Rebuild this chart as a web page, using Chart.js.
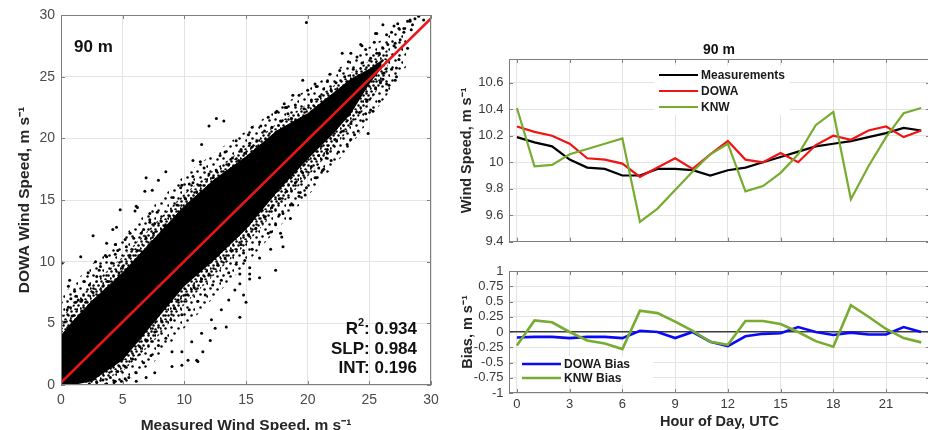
<!DOCTYPE html>
<html>
<head>
<meta charset="utf-8">
<script src="https://cdn.jsdelivr.net/npm/chart.js@4.4.1/dist/chart.umd.min.js"></script>
<style>
  html, body { margin: 0; padding: 0; background: #fff; width: 928px; height: 430px; overflow: hidden; }
  canvas { position: absolute; }
  #scatter { left: 0; top: 0; }
  #speed { left: 455px; top: 0; }
  #bias { left: 455px; top: 255px; }
</style>
</head>
<body>
<canvas id="scatter" width="455" height="440"></canvas>
<canvas id="speed" width="477" height="255"></canvas>
<canvas id="bias" width="477" height="180"></canvas>
<script>
// ---- hourly means at 90 m ----
var hours = [0, 1, 2, 3, 4, 5, 6, 7, 8, 9, 10, 11, 12, 13, 14, 15, 16, 17, 18, 19, 20, 21, 22, 23];
var measured = [10.19, 10.15, 10.12, 10.02, 9.96, 9.95, 9.90, 9.90, 9.95, 9.95, 9.94, 9.90, 9.94, 9.96, 10.00, 10.04, 10.08, 10.12, 10.14, 10.16, 10.19, 10.22, 10.26, 10.24];
var dowa = [10.27, 10.23, 10.20, 10.14, 10.03, 10.02, 9.99, 9.89, 9.96, 10.03, 9.95, 10.06, 10.16, 10.02, 10.00, 10.07, 10.00, 10.13, 10.20, 10.17, 10.24, 10.27, 10.19, 10.24];
var knw = [10.41, 9.97, 9.98, 10.06, 10.10, 10.14, 10.18, 9.55, 9.65, 9.79, 9.93, 10.06, 10.14, 9.78, 9.82, 9.92, 10.06, 10.28, 10.38, 9.72, 9.97, 10.19, 10.37, 10.41];
var dowaBias = [-0.09, -0.08, -0.08, -0.10, -0.08, -0.08, -0.10, 0.02, 0.00, -0.10, 0.00, -0.16, -0.23, -0.07, -0.03, -0.02, 0.08, 0.00, -0.05, -0.01, -0.04, -0.04, 0.08, 0.00];
var knwBias = [-0.22, 0.19, 0.16, 0.00, -0.14, -0.19, -0.28, 0.35, 0.31, 0.17, 0.02, -0.16, -0.21, 0.18, 0.18, 0.13, 0.00, -0.15, -0.24, 0.44, 0.25, 0.05, -0.10, -0.17];

var hourTicks = [0, 3, 6, 9, 12, 15, 18, 21];
var speedTicks = [9.4, 9.6, 9.8, 10, 10.2, 10.4, 10.6];
var biasTicks = [-1, -0.75, -0.5, -0.25, 0, 0.25, 0.5, 0.75, 1];
var scatterTicks = [0, 5, 10, 15, 20, 25, 30];

// ---- scatter (measured vs DOWA) ----
// solid middle of the cloud, as upper/lower edges
var coreX = [0, 1, 2.5, 5, 7.5, 10, 12.5, 15, 17.5, 20, 22, 23.5, 25, 26];
var coreUpper = [4.0, 5.2, 6.8, 9.1, 11.8, 14.5, 16.7, 18.5, 20.6, 22.0, 23.6, 24.8, 25.6, 26.3];
var coreLower = [0, 0, 0.3, 2.0, 5.0, 8.0, 10.2, 12.6, 15.6, 18.3, 20.3, 22.0, 24.4, 25.7];
// thick speckle round the core
var innerX = [0, 1, 2.5, 5, 7.5, 10, 12.5, 15, 17.5, 20, 22, 23.5, 25, 26.5];
var innerUpper = [5.5, 6.5, 8.1, 10.4, 13.0, 15.5, 17.5, 19.3, 21.2, 22.8, 24.2, 25.3, 26.3, 27.2];
var innerLower = [0, 0, 0, 1.1, 3.5, 6.5, 9.0, 11.4, 14.2, 16.9, 19.1, 20.9, 22.9, 25.3];
// thin speckle further out
var outerX = [0, 1, 2.5, 5, 7.5, 10, 12.5, 15, 17.5, 20, 22, 23.5, 25, 26.5, 28];
var outerUpper = [7.2, 8.2, 9.8, 12.0, 14.6, 17.0, 18.9, 20.6, 22.4, 24.0, 25.3, 26.4, 27.4, 28.3, 29.2];
var outerLower = [0, 0, 0, 0, 1.8, 4.6, 7.2, 9.8, 12.6, 15.3, 17.6, 19.4, 21.5, 23.6, 25.8];
// single points
var loosePoints = [
  // far outliers
  [19.9,29.4],[19.6,24.7],[12.6,21.6],[12.0,21.0],[13.2,21.4],[11.4,19.5],[10.7,18.2],[11.3,18.1],[8.5,17.3],[7.9,16.6],
  [6.9,16.8],[6.8,15.7],[7.4,15.8],[9.8,16.2],[10.7,16.9],[6.2,14.4],[4.8,14.2],[4.5,12.8],[4.2,12.6],[2.6,12.1],
  [1.6,10.4],[0.6,8.0],[0.7,8.5],[0.1,9.9],[1.2,6.7],[3.2,9.6],[3.7,10.4],[4.4,11.4],[5.6,12.3],[7.2,13.4],
  [6.1,14.5],[6.0,14.1],[3.6,10.5],[1.1,7.6],[1.9,8.4],[2.2,9.1],[3.7,11.5],[4.6,10.9],[5.2,11.8],[7.2,13.9],
  [7.6,13.1],[6.7,12.6],[2.8,10.0],[1.7,6.9],[0.5,6.1],[0.8,7.0],[15.5,20.9],[15.3,19.6],[14.4,18.2],[17.5,22.2],
  [18.3,22.5],[18.8,23.5],[18.2,22.5],
  [17.4,9.3],[16.1,8.7],[15.0,6.7],[14.8,7.3],[11.0,2.0],[9.8,1.6],[6.9,0.6],[13.4,4.7],[12.5,4.6],[14.5,5.5],
  [17.0,11.0],[17.8,12.3],[18.6,13.5],[19.4,15.6],[24.1,20.6],[25.3,22.2],[26.6,24.3],[27.2,25.0],[22.5,21.8],[21.6,18.8],
  [20.9,17.6],[23.5,19.9],[16.1,10.3],[15.3,9.5],[15.3,9.0],[17.7,13.8],[18.8,14.6],[19.8,15.4],[21.3,17.5],[21.5,18.4],
  [20.7,16.8],[17.0,12.4],[17.9,12.0],[18.0,11.2],[14.8,10.7],[15.3,8.6],[14.5,9.0],[11.1,1.9],[12.1,3.6],[11.5,2.7],
  [10.3,2.0],[10.6,3.5],[9.0,1.5],[7.6,1.0],[6.1,0.3],[5.2,0.5],[9.8,2.7],[13.0,6.1],[12.2,5.3],[14.1,7.7],
  [14.5,8.2],[13.6,6.9],[11.4,4.2],[9.0,2.7],[3.6,0.05],[4.4,0.3],
  [29.0,29.9],[28.3,29.5],[27.8,28.9],[26.4,28.4],[25.5,28.5],[24.3,27.6],[23.5,26.9],[21.8,25.2],[20.7,24.2],[25.6,26.9],
  [27.5,28.0],[28.5,29.2],[27.0,29.1],[29.4,29.6],[26.2,25.3],[25.9,24.5],[24.8,23.1],[27.0,27.5],[26.1,29.2],[27.3,29.3],
  [28.3,29.6],[25.6,28.5],[24.4,27.5],[22.8,26.9],[26.4,24.4],[27.2,25.7],[24.7,22.0],[22.6,21.5],[24.9,20.4],
  // above the core
  [0.3,5.1],[0.6,6.3],[0.9,5.6],[1.2,7.2],[1.4,6.9],[1.7,6.0],[2.0,6.7],[2.3,8.1],[2.6,7.5],[2.9,8.8],
  [3.1,9.3],[3.4,8.0],[3.8,8.4],[4.1,9.9],[4.4,10.6],[4.7,9.1],[5.0,9.6],[5.3,11.2],[5.6,10.5],[5.9,11.9],
  [6.2,10.9],[6.5,12.3],[6.9,11.9],[7.2,13.2],[7.5,12.3],[7.8,14.0],[8.1,13.3],[8.4,12.9],[8.8,13.7],[9.1,15.2],
  [9.4,14.6],[9.7,16.0],[10.1,15.1],[10.4,16.3],[10.7,16.4],[11.0,15.6],[11.3,16.2],[11.6,17.6],[12.0,17.1],[12.3,16.8],
  [12.6,17.4],[12.9,18.6],[13.3,18.9],[13.6,17.9],[13.9,18.4],[14.2,19.8],[14.6,19.1],[14.9,18.8],[15.2,20.3],[15.5,19.3],
  [15.9,19.8],[16.2,21.0],[16.5,20.6],[16.8,21.7],[17.1,20.9],[17.4,22.1],[17.8,21.4],[18.1,22.8],[18.4,22.0],[18.7,21.6],
  [19.0,22.7],[19.3,23.5],[19.7,22.4],[20.0,23.9],[20.3,23.1],[20.6,24.4],[21.0,23.4],[21.3,24.0],[21.6,24.6],[21.9,23.9],
  [22.3,24.5],[22.6,25.5],[23.0,25.0],[23.3,26.2],[23.7,25.6],[24.0,26.6],[24.4,26.1],[24.7,27.2],[25.1,26.5],[25.4,27.8],
  [25.8,26.9],[26.1,27.3],[26.5,27.6],[26.8,28.6],[27.1,27.7],[27.4,28.9],[27.8,28.6],[28.1,29.5],[28.4,28.8],[28.7,29.7],
  // below the core
  [2.3,0.1],[2.9,0.2],[3.4,0.4],[3.7,0.1],[4.0,0.6],[4.3,0.2],[4.6,1.1],[4.9,0.3],[5.2,1.5],[5.5,0.6],
  [5.8,2.1],[6.1,1.0],[6.4,3.1],[6.7,1.8],[7.0,3.6],[7.3,2.4],[7.6,4.3],[7.9,3.2],[8.2,5.1],[8.5,3.8],
  [8.9,5.3],[9.2,6.2],[9.5,6.9],[9.8,5.7],[10.1,7.3],[10.4,6.1],[10.8,7.9],[11.1,6.8],[11.4,8.6],[11.7,7.3],
  [12.0,9.0],[12.3,8.1],[12.7,9.7],[13.0,8.5],[13.3,10.3],[13.6,9.1],[13.9,10.9],[14.2,9.8],[14.6,11.4],[14.9,10.1],
  [15.2,12.2],[15.5,11.0],[15.8,12.7],[16.1,11.6],[16.5,13.6],[16.8,12.3],[17.1,14.4],[17.4,13.0],[17.7,15.1],[18.0,13.9],
  [18.3,15.7],[18.6,14.6],[19.0,16.4],[19.3,15.3],[19.6,17.2],[19.9,16.0],[20.3,17.7],[20.6,16.8],[20.9,18.6],[21.2,17.4],
  [21.6,19.1],[21.9,18.2],[22.2,19.9],[22.5,18.9],[22.9,20.6],[23.2,19.5],[23.5,21.2],[23.8,20.3],[24.2,22.1],[24.5,21.4],
  [24.8,23.0],[25.1,22.3],[25.5,24.1],[25.8,23.0],[26.1,24.8],[26.4,23.9],[26.8,25.6],[27.1,24.7],[27.4,26.4],[28.1,27.3]
];
// regression line end points
var fitX = [0, 30];
var fitY = [0.196, 29.716];
var statNames = ['R', 'SLP', 'INT'];
var statValues = [0.934, 0.984, 0.196];
var heightLabel = '90 m';

var FONT = "'Liberation Sans', Arial, Helvetica, sans-serif";
Chart.defaults.font.family = FONT;
Chart.defaults.animation = false;

function pairs(xs, ys) {
  return xs.map(function(x, i) { return {x: x, y: ys[i]}; });
}
function setTicks(list) {
  return function(scale) { scale.ticks = list.map(function(v) { return {value: v}; }); };
}
function fixWidth(w) { return function(scale) { scale.width = w; }; }
function fixHeight(h) { return function(scale) { scale.height = h; }; }

// small dotted texture used to fill the fringe of the cloud
var scatterCanvas = document.getElementById('scatter');
function stipple(size, dots) {
  var tile = document.createElement('canvas');
  tile.width = tile.height = size;
  var g = tile.getContext('2d');
  g.fillStyle = '#000';
  dots.forEach(function(d) {
    g.beginPath();
    g.arc(d[0] + 0.5, d[1] + 0.5, 1.25, 0, Math.PI * 2);
    g.fill();
  });
  return scatterCanvas.getContext('2d').createPattern(tile, 'repeat');
}
var densePattern = stipple(10, [[1,1],[6,1],[3,5],[8,5],[0,8],[5,9]]);
var thinPattern = stipple(13, [[2,2],[9,3],[5,8],[12,10]]);

// box round the plot area plus small inward tick marks, matlab style
var framePlugin = {
  id: 'frame',
  afterDraw: function(chart) {
    var a = chart.chartArea, ctx = chart.ctx;
    ctx.save();
    ctx.strokeStyle = '#7f7f7f';
    ctx.lineWidth = 1;
    ctx.strokeRect(Math.round(a.left) + 0.5, Math.round(a.top) + 0.5, Math.round(a.width) - 1, Math.round(a.height) - 1);
    ctx.beginPath();
    chart.scales.x.ticks.forEach(function(t) {
      var px = Math.round(chart.scales.x.getPixelForValue(t.value)) + 0.5;
      ctx.moveTo(px, a.bottom); ctx.lineTo(px, a.bottom - 4);
      ctx.moveTo(px, a.top); ctx.lineTo(px, a.top + 4);
    });
    chart.scales.y.ticks.forEach(function(t) {
      var py = Math.round(chart.scales.y.getPixelForValue(t.value)) + 0.5;
      ctx.moveTo(a.left, py); ctx.lineTo(a.left + 4, py);
      ctx.moveTo(a.right, py); ctx.lineTo(a.right - 4, py);
    });
    ctx.stroke();
    ctx.restore();
  }
};

function lineLegend(dx, dy, gap, bg) {
  return {
    id: 'lineLegend',
    afterDatasetsDraw: function(chart) {
      var a = chart.chartArea, ctx = chart.ctx;
      var x0 = a.left + dx, y0 = a.top + dy;
      ctx.save();
      ctx.fillStyle = '#fff';
      ctx.fillRect(x0 + bg[0], y0 + bg[1], bg[2], bg[3]);
      ctx.font = 'bold 12px ' + FONT;
      ctx.textBaseline = 'middle';
      chart.data.datasets.forEach(function(ds, i) {
        var y = y0 + i * gap;
        ctx.strokeStyle = ds.borderColor;
        ctx.lineWidth = ds.borderWidth;
        ctx.beginPath();
        ctx.moveTo(x0, y); ctx.lineTo(x0 + 39, y);
        ctx.stroke();
        ctx.fillStyle = '#1a1a1a';
        ctx.fillText(ds.label, x0 + 42, y + 1);
      });
      ctx.restore();
    }
  };
}

function baseScale(extra) {
  var s = {
    type: 'linear',
    border: {display: false},
    grid: {color: '#e4e4e4', lineWidth: 1, drawTicks: false}
  };
  for (var k in extra) s[k] = extra[k];
  return s;
}

function band(label, xs, ys, fill, bg, order) {
  return {label: label, data: pairs(xs, ys), showLine: true, pointRadius: 0, order: order,
          borderWidth: fill && bg === '#000' ? 1 : 0, borderColor: bg === '#000' ? '#000' : 'rgba(0,0,0,0)',
          fill: fill, backgroundColor: bg};
}

// ---------- left: scatter ----------
new Chart(scatterCanvas, {
  type: 'scatter',
  data: {
    datasets: [
      {label: 'fit', data: pairs(fitX, fitY), showLine: true, borderColor: '#e8161b', borderWidth: 2.6,
       pointRadius: 0, order: 0},
      {label: 'hourly pairs', data: loosePoints.map(function(p) { return {x: p[0], y: p[1]}; }),
       pointRadius: 1.5, pointBackgroundColor: '#000', pointBorderWidth: 0, order: 1},
      band('core upper', coreX, coreUpper, '+1', '#000', 2),
      band('core lower', coreX, coreLower, false, '#000', 3),
      band('inner upper', innerX, innerUpper, '+1', densePattern, 4),
      band('inner lower', innerX, innerLower, false, densePattern, 5),
      band('outer upper', outerX, outerUpper, '+1', thinPattern, 6),
      band('outer lower', outerX, outerLower, false, thinPattern, 7)
    ]
  },
  options: {
    responsive: false,
    devicePixelRatio: 1,
    layout: {padding: {top: 15, right: 24, bottom: 0, left: 0}},
    plugins: {legend: {display: false}, tooltip: {enabled: false}},
    scales: {
      x: baseScale({
        min: 0, max: 30,
        afterBuildTicks: setTicks(scatterTicks),
        afterFit: fixHeight(55),
        ticks: {color: '#4a4a4a', font: {size: 14}, padding: 7, autoSkip: false, maxRotation: 0},
        title: {display: true, text: 'Measured Wind Speed, m s\u207B\u00B9', color: '#262626',
                font: {size: 15.5, weight: 'bold'}, padding: {top: 0, bottom: 5}}
      }),
      y: baseScale({
        min: 0, max: 30,
        afterBuildTicks: setTicks(scatterTicks),
        afterFit: fixWidth(61),
        ticks: {color: '#4a4a4a', font: {size: 14}, padding: 6, autoSkip: false},
        title: {display: true, text: 'DOWA Wind Speed, m s\u207B\u00B9', color: '#262626',
                font: {size: 15.5, weight: 'bold'}, padding: {top: 15.7, bottom: 0}}
      })
    }
  },
  plugins: [framePlugin, {
    id: 'scatterNotes',
    afterDraw: function(chart) {
      var a = chart.chartArea, ctx = chart.ctx;
      ctx.save();
      ctx.fillStyle = '#111';
      ctx.textBaseline = 'middle';
      ctx.font = 'bold 17px ' + FONT;
      ctx.textAlign = 'left';
      ctx.fillText(heightLabel, a.left + 13, a.top + 32);
      ctx.textAlign = 'right';
      var right = a.right - 14;
      var rows = [a.bottom - 56, a.bottom - 36, a.bottom - 17];
      statNames.forEach(function(name, i) {
        var val = ': ' + statValues[i].toFixed(3);
        ctx.font = 'bold 17px ' + FONT;
        if (i === 0) {
          var wVal = ctx.measureText(val).width;
          ctx.fillText(val, right, rows[i]);
          ctx.font = 'bold 11px ' + FONT;
          var wSup = ctx.measureText('2').width;
          ctx.fillText('2', right - wVal, rows[i] - 6);
          ctx.font = 'bold 17px ' + FONT;
          ctx.fillText(name, right - wVal - wSup, rows[i]);
        } else {
          ctx.fillText(name + val, right, rows[i]);
        }
      });
      ctx.restore();
    }
  }]
});

// ---------- right top: hourly wind speed ----------
new Chart(document.getElementById('speed'), {
  type: 'scatter',
  data: {
    datasets: [
      {label: 'Measurements', data: pairs(hours, measured), showLine: true, borderColor: '#000', borderWidth: 2.2, pointRadius: 0, order: 3},
      {label: 'DOWA', data: pairs(hours, dowa), showLine: true, borderColor: '#f01414', borderWidth: 2.2, pointRadius: 0, order: 2},
      {label: 'KNW', data: pairs(hours, knw), showLine: true, borderColor: '#77ac30', borderWidth: 2.2, pointRadius: 0, order: 1}
    ]
  },
  options: {
    responsive: false,
    devicePixelRatio: 1,
    layout: {padding: {top: 59, right: 2, bottom: 0, left: 0}},
    plugins: {legend: {display: false}, tooltip: {enabled: false}},
    scales: {
      x: baseScale({
        min: -0.45, max: 23.5,
        afterBuildTicks: setTicks(hourTicks),
        afterFit: fixHeight(5),
        ticks: {display: false}
      }),
      y: baseScale({
        min: 9.4, max: 10.78,
        afterBuildTicks: setTicks(speedTicks),
        afterFit: fixWidth(54),
        ticks: {color: '#3a3a3a', font: {size: 13}, padding: 5.5, autoSkip: false,
                callback: function(v) { return String(v); }},
        title: {display: true, text: 'Wind Speed, m s\u207B\u00B9', color: '#262626',
                font: {size: 14.5, weight: 'bold'}, padding: {top: 3, bottom: 0}}
      })
    }
  },
  plugins: [framePlugin, lineLegend(150, 16, 16, [-5, -9, 136, 49]), {
    id: 'speedTitle',
    afterDraw: function(chart) {
      var a = chart.chartArea, ctx = chart.ctx;
      ctx.save();
      ctx.fillStyle = '#111';
      ctx.font = 'bold 14px ' + FONT;
      ctx.textAlign = 'center';
      ctx.textBaseline = 'middle';
      ctx.fillText(heightLabel, a.left + 210, a.top - 9);
      ctx.restore();
    }
  }]
});

// ---------- right bottom: bias ----------
new Chart(document.getElementById('bias'), {
  type: 'scatter',
  data: {
    datasets: [
      {label: 'DOWA Bias', data: pairs(hours, dowaBias), showLine: true, borderColor: '#0a0af5', borderWidth: 2.6, pointRadius: 0, order: 2},
      {label: 'KNW Bias', data: pairs(hours, knwBias), showLine: true, borderColor: '#77ac30', borderWidth: 2.6, pointRadius: 0, order: 1}
    ]
  },
  options: {
    responsive: false,
    devicePixelRatio: 1,
    layout: {padding: {top: 16, right: 2, bottom: 0, left: 0}},
    plugins: {legend: {display: false}, tooltip: {enabled: false}},
    scales: {
      x: baseScale({
        min: -0.45, max: 23.5,
        afterBuildTicks: setTicks(hourTicks),
        afterFit: fixHeight(42),
        ticks: {color: '#3a3a3a', font: {size: 13}, padding: 4, autoSkip: false, maxRotation: 0},
        title: {display: true, text: 'Hour of Day, UTC', color: '#262626',
                font: {size: 14.5, weight: 'bold'}, padding: {top: 0, bottom: 4.3}}
      }),
      y: baseScale({
        min: -1, max: 1,
        afterBuildTicks: setTicks(biasTicks),
        afterFit: fixWidth(54),
        grid: {
          drawTicks: false,
          color: function(c) { return c.tick && c.tick.value === 0 ? '#3c3c3c' : '#e4e4e4'; },
          lineWidth: function(c) { return c.tick && c.tick.value === 0 ? 1.6 : 1; }
        },
        ticks: {color: '#3a3a3a', font: {size: 13}, padding: 5.5, autoSkip: false,
                callback: function(v) { return String(v); }},
        title: {display: true, text: 'Bias, m s\u207B\u00B9', color: '#262626',
                font: {size: 14.5, weight: 'bold'}, padding: {top: 4.5, bottom: 0}}
      })
    }
  },
  plugins: [framePlugin, lineLegend(13, 93, 14, [-5, -7, 136, 28])]
});
</script>
</body>
</html>
